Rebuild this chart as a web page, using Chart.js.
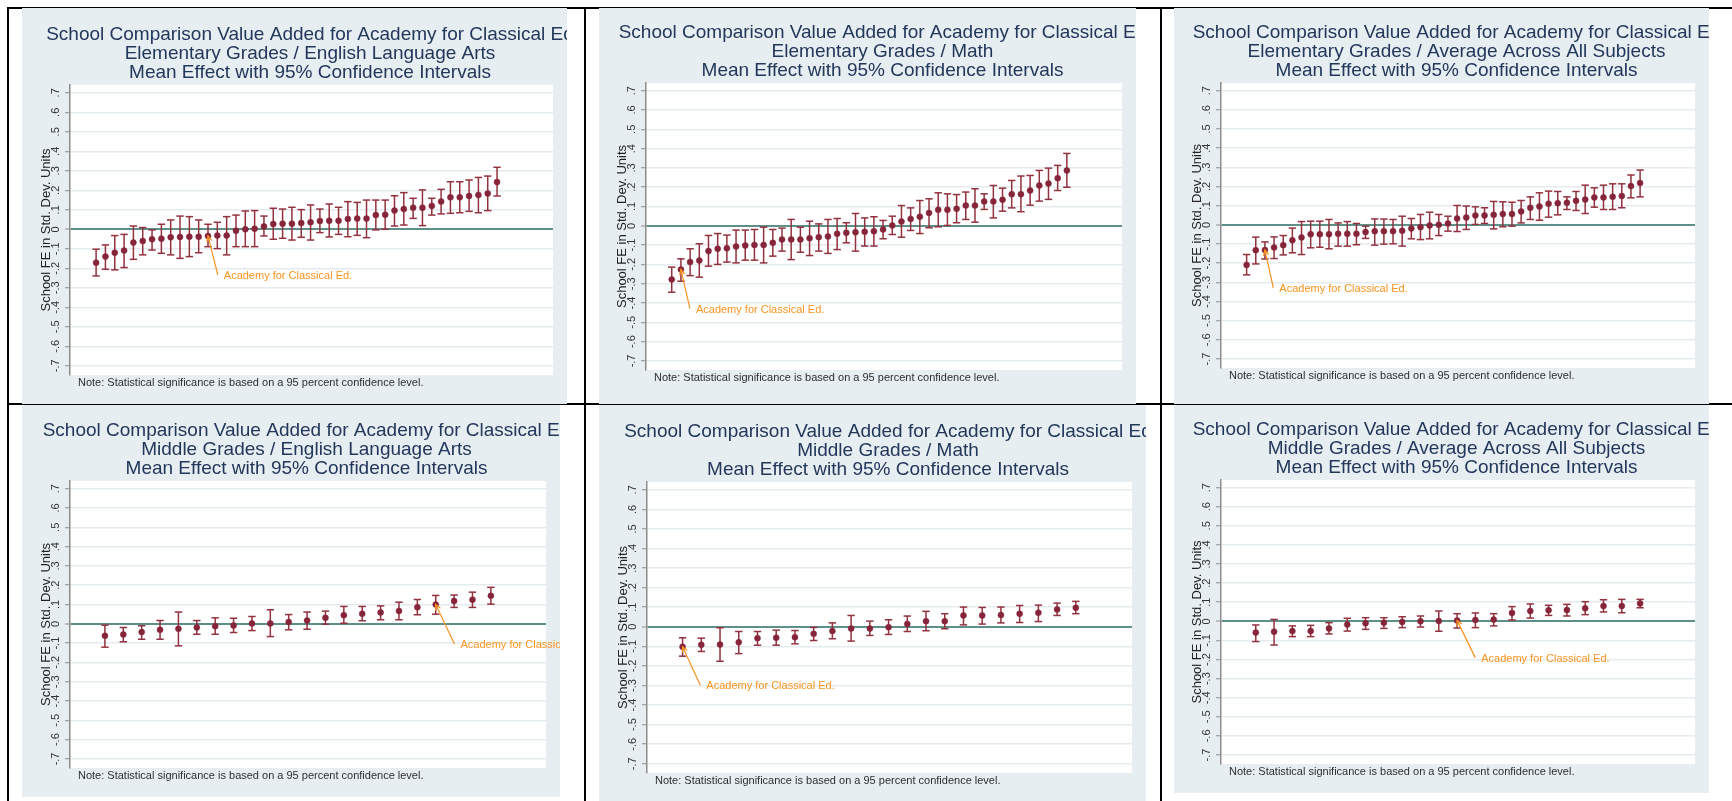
<!DOCTYPE html>
<html><head><meta charset="utf-8">
<script src="https://cdn.jsdelivr.net/npm/chart.js@4.4.1/dist/chart.umd.min.js"></script>
<style>
html,body{margin:0;padding:0;background:#fff;}
#page{position:relative;width:1732px;height:801px;overflow:hidden;background:#fff;}
.rule{position:absolute;background:#000;}
canvas.panel{position:absolute;background:#e7eef1;}
</style></head><body><div id="page"></div>
<script>
// ---------------- data ----------------
const tickValues = [-0.7,-0.6,-0.5,-0.4,-0.3,-0.2,-0.1,0,0.1,0.2,0.3,0.4,0.5,0.6,0.7];
const tickLabels = ["-.7","-.6","-.5","-.4","-.3","-.2","-.1","0",".1",".2",".3",".4",".5",".6",".7"];
const mainTitle = "School Comparison Value Added for Academy for Classical Ed";
const subTitles = ["Elementary Grades / English Language Arts","Elementary Grades / Math","Elementary Grades / Average Across All Subjects","Middle Grades / English Language Arts","Middle Grades / Math","Middle Grades / Average Across All Subjects"];
const thirdTitle = "Mean Effect with 95% Confidence Intervals";
const yAxisTitle = "School FE in Std. Dev. Units";
const noteText = "Note: Statistical significance is based on a 95 percent confidence level.";
const annotationText = "Academy for Classical Ed.";

const elemElaMean = [-0.171,-0.140,-0.120,-0.109,-0.068,-0.060,-0.051,-0.048,-0.041,-0.039,-0.038,-0.038,-0.034,-0.032,-0.032,-0.007,0.000,0.003,0.015,0.027,0.029,0.029,0.032,0.036,0.043,0.044,0.044,0.053,0.055,0.055,0.073,0.075,0.096,0.104,0.111,0.111,0.120,0.142,0.164,0.164,0.171,0.176,0.184,0.242];
const elemElaHi = [-0.102,-0.080,-0.032,-0.026,0.017,0.009,-0.003,0.026,0.048,0.068,0.065,0.048,0.026,0.036,0.065,0.073,0.094,0.096,0.068,0.108,0.104,0.113,0.101,0.125,0.104,0.130,0.113,0.142,0.138,0.150,0.150,0.150,0.172,0.188,0.159,0.202,0.159,0.205,0.244,0.244,0.253,0.266,0.273,0.318];
const elemElaLo = [-0.239,-0.205,-0.208,-0.196,-0.154,-0.131,-0.106,-0.123,-0.131,-0.149,-0.140,-0.120,-0.089,-0.099,-0.131,-0.089,-0.089,-0.089,-0.034,-0.051,-0.046,-0.055,-0.041,-0.055,-0.017,-0.039,-0.026,-0.038,-0.031,-0.043,-0.003,0.000,0.017,0.022,0.056,0.019,0.073,0.079,0.082,0.085,0.092,0.085,0.096,0.171];

const elemMathMean = [-0.278,-0.226,-0.188,-0.180,-0.131,-0.119,-0.116,-0.107,-0.102,-0.099,-0.099,-0.088,-0.071,-0.071,-0.071,-0.064,-0.059,-0.055,-0.041,-0.036,-0.033,-0.031,-0.028,-0.019,0.002,0.022,0.036,0.047,0.067,0.083,0.083,0.088,0.105,0.105,0.126,0.126,0.135,0.164,0.164,0.183,0.209,0.219,0.247,0.287];
const elemMathHi = [-0.214,-0.171,-0.119,-0.093,-0.050,-0.040,-0.048,-0.022,-0.022,-0.019,-0.007,-0.019,-0.012,0.033,-0.007,0.024,0.010,0.033,0.038,0.016,0.064,0.041,0.047,0.028,0.050,0.105,0.093,0.131,0.140,0.171,0.166,0.162,0.175,0.192,0.166,0.209,0.195,0.235,0.258,0.261,0.287,0.299,0.313,0.375];
const elemMathLo = [-0.344,-0.287,-0.258,-0.266,-0.209,-0.200,-0.188,-0.192,-0.178,-0.178,-0.192,-0.157,-0.131,-0.175,-0.137,-0.154,-0.131,-0.143,-0.123,-0.088,-0.131,-0.105,-0.105,-0.067,-0.045,-0.059,-0.024,-0.040,-0.010,-0.005,0.002,0.016,0.033,0.019,0.085,0.041,0.076,0.093,0.073,0.107,0.128,0.137,0.183,0.200];

const elemAvgMean = [-0.209,-0.132,-0.131,-0.118,-0.106,-0.080,-0.066,-0.049,-0.049,-0.049,-0.047,-0.047,-0.047,-0.038,-0.033,-0.033,-0.033,-0.031,-0.019,-0.012,-0.003,0.000,0.007,0.033,0.038,0.049,0.049,0.052,0.056,0.056,0.070,0.089,0.096,0.110,0.113,0.115,0.125,0.132,0.143,0.143,0.146,0.150,0.202,0.218];
const elemAvgHi = [-0.155,-0.064,-0.089,-0.063,-0.056,-0.017,0.017,0.019,0.019,0.028,0.010,0.017,0.007,-0.007,0.031,0.030,0.028,0.045,0.033,0.054,0.066,0.054,0.045,0.101,0.098,0.094,0.089,0.122,0.120,0.118,0.127,0.146,0.167,0.176,0.174,0.146,0.174,0.207,0.193,0.207,0.214,0.214,0.260,0.286];
const elemAvgLo = [-0.261,-0.204,-0.178,-0.176,-0.157,-0.146,-0.155,-0.120,-0.117,-0.125,-0.111,-0.111,-0.104,-0.071,-0.106,-0.101,-0.099,-0.111,-0.073,-0.077,-0.073,-0.056,-0.033,-0.035,-0.024,0.002,0.007,-0.021,-0.010,-0.007,0.010,0.028,0.024,0.040,0.052,0.080,0.075,0.059,0.092,0.080,0.080,0.089,0.141,0.146];

const midElaMean = [-0.062,-0.055,-0.043,-0.031,-0.026,-0.019,-0.012,-0.009,0.002,0.002,0.010,0.017,0.031,0.045,0.052,0.059,0.067,0.086,0.100,0.118,0.125,0.145];
const midElaHi = [-0.007,-0.019,-0.010,0.017,0.061,0.017,0.031,0.029,0.038,0.073,0.048,0.061,0.066,0.090,0.090,0.093,0.112,0.126,0.147,0.149,0.164,0.189];
const midElaLo = [-0.121,-0.093,-0.080,-0.080,-0.114,-0.054,-0.054,-0.045,-0.035,-0.066,-0.031,-0.028,-0.002,0.003,0.016,0.021,0.021,0.047,0.050,0.085,0.085,0.102];

const midMathMean = [-0.102,-0.092,-0.091,-0.079,-0.058,-0.056,-0.053,-0.036,-0.022,-0.009,-0.009,-0.002,0.015,0.029,0.029,0.058,0.058,0.060,0.067,0.072,0.089,0.097];
const midMathHi = [-0.056,-0.058,-0.005,-0.024,-0.024,-0.017,-0.019,-0.003,0.020,0.058,0.029,0.036,0.055,0.079,0.067,0.101,0.099,0.101,0.109,0.111,0.121,0.130];
const midMathLo = [-0.150,-0.126,-0.176,-0.137,-0.094,-0.094,-0.087,-0.070,-0.061,-0.073,-0.044,-0.039,-0.024,-0.020,-0.010,0.010,0.014,0.020,0.022,0.027,0.058,0.067];

const midAvgMean = [-0.059,-0.054,-0.051,-0.051,-0.037,-0.017,-0.010,-0.007,-0.003,0.000,0.002,0.005,0.007,0.009,0.044,0.054,0.058,0.059,0.068,0.080,0.080,0.094];
const midAvgHi = [-0.019,0.010,-0.024,-0.021,-0.007,0.016,0.019,0.019,0.024,0.028,0.054,0.040,0.044,0.040,0.077,0.091,0.084,0.089,0.103,0.113,0.115,0.115];
const midAvgLo = [-0.106,-0.124,-0.080,-0.080,-0.066,-0.051,-0.042,-0.037,-0.033,-0.030,-0.052,-0.035,-0.033,-0.024,0.007,0.017,0.031,0.028,0.035,0.049,0.045,0.071];

// 1-based position of the Academy for Classical Ed. in each panel
const academyIndex = [13, 2, 3, 19, 1, 12];

// ---------------- layout / style ----------------
const FONT = '"Liberation Sans", Arial, Helvetica, sans-serif';
const TITLE_COLOR = '#23375b';
const MARK_COLOR = '#86243a';
const BAR_COLOR = '#93323f';
const GRID_COLOR = '#e4ecef';
const ZERO_COLOR = '#5e8f88';
const ORANGE = '#f7931e';
const Y_MIN = -0.747, Y_MAX = 0.74;

const panels = [
  {mean: elemElaMean, lo: elemElaLo, hi: elemElaHi, sub: 0, tail: {x: 14.05, y: -0.234}, xMin: -1.8, xMax: 50,
   gray: {l: 22, t: 8, r: 567, b: 404}, plot: {l: 70, t: 85, r: 553, b: 375}},
  {mean: elemMathMean, lo: elemMathLo, hi: elemMathHi, sub: 1, tail: {x: 2.98, y: -0.429}, xMin: -1.8, xMax: 50,
   gray: {l: 599, t: 8, r: 1136, b: 404}, plot: {l: 646, t: 83, r: 1122, b: 370}},
  {mean: elemAvgMean, lo: elemAvgLo, hi: elemAvgHi, sub: 2, tail: {x: 3.92, y: -0.329}, xMin: -1.8, xMax: 50,
   gray: {l: 1174, t: 8, r: 1709, b: 404}, plot: {l: 1221, t: 83, r: 1695, b: 368}},
  {mean: midElaMean, lo: midElaLo, hi: midElaHi, sub: 3, tail: {x: 20.02, y: -0.105}, xMin: -0.9, xMax: 25,
   gray: {l: 22, t: 405, r: 560, b: 797}, plot: {l: 70, t: 481, r: 546, b: 768}},
  {mean: midMathMean, lo: midMathLo, hi: midMathHi, sub: 4, tail: {x: 1.95, y: -0.299}, xMin: -0.9, xMax: 25,
   gray: {l: 599, t: 405, r: 1146, b: 801}, plot: {l: 647, t: 482, r: 1132, b: 773}},
  {mean: midAvgMean, lo: midAvgLo, hi: midAvgHi, sub: 5, tail: {x: 12.99, y: -0.190}, xMin: -0.9, xMax: 25,
   gray: {l: 1174, t: 405, r: 1709, b: 793}, plot: {l: 1221, t: 480, r: 1695, b: 764}}
];

const page = document.getElementById('page');
function rule(l, t, w, h) {
  const d = document.createElement('div'); d.className = 'rule';
  d.style.left = l + 'px'; d.style.top = t + 'px'; d.style.width = w + 'px'; d.style.height = h + 'px';
  page.appendChild(d);
}
rule(7, 7, 1725, 2);
rule(7, 7, 2, 794);
rule(584, 7, 2, 794);
rule(1160, 7, 2, 794);
rule(7, 403, 1725, 2);

function makeDecor(p, idx) {
  return {
    id: 'decor' + idx,
    beforeDraw(chart) {
      const {ctx, chartArea: a} = chart;
      ctx.save();
      ctx.fillStyle = '#ffffff';
      ctx.fillRect(a.left, a.top, a.right - a.left, a.bottom - a.top);
      ctx.restore();
    },
    afterDraw(chart) {
      const {ctx, chartArea: a, scales} = chart;
      const xs = scales.x, ys = scales.y;
      const cx = (a.left + a.right) / 2 - 1.5;
      ctx.save();
      // titles
      ctx.fillStyle = TITLE_COLOR;
      ctx.font = '19px ' + FONT;
      ctx.textAlign = 'center';
      ctx.textBaseline = 'middle';
      const lines = [mainTitle, subTitles[p.sub], thirdTitle];
      const offs = [50, 31, 12];
      lines.forEach((t, i) => ctx.fillText(t, cx, a.top - offs[i]));
      // note
      ctx.fillStyle = '#2e2e2e';
      ctx.font = '11px ' + FONT;
      ctx.textAlign = 'left';
      ctx.fillText(noteText, a.left + 8, a.bottom + 8);
      // y axis title (overlapping tick labels, as in the original)
      ctx.save();
      ctx.translate(a.left - 24, (a.top + a.bottom) / 2);
      ctx.rotate(-Math.PI / 2);
      ctx.textAlign = 'center';
      ctx.font = '13px ' + FONT;
      ctx.fillStyle = '#222';
      ctx.fillText(yAxisTitle, 0, 0);
      ctx.restore();
      // annotation arrow
      const k = academyIndex[idx];
      const hx = xs.getPixelForValue(k), hy = ys.getPixelForValue(p.mean[k - 1]);
      const tx = xs.getPixelForValue(p.tail.x), ty = ys.getPixelForValue(p.tail.y);
      ctx.strokeStyle = ORANGE; ctx.lineWidth = 1.2;
      ctx.beginPath(); ctx.moveTo(tx, ty); ctx.lineTo(hx, hy); ctx.stroke();
      const ang = Math.atan2(hy - ty, hx - tx);
      const bl = 6, ba = 0.45;
      ctx.beginPath();
      ctx.moveTo(hx - bl * Math.cos(ang - ba), hy - bl * Math.sin(ang - ba));
      ctx.lineTo(hx, hy);
      ctx.lineTo(hx - bl * Math.cos(ang + ba), hy - bl * Math.sin(ang + ba));
      ctx.stroke();
      ctx.fillStyle = ORANGE;
      ctx.font = '11px ' + FONT;
      ctx.textAlign = 'left';
      ctx.textBaseline = 'middle';
      ctx.fillText(annotationText, tx + 6, ty + 1);
      ctx.restore();
    }
  };
}

panels.forEach((p, idx) => {
  const w = p.gray.r - p.gray.l, h = p.gray.b - p.gray.t;
  const c = document.createElement('canvas');
  c.className = 'panel';
  c.width = w; c.height = h;
  c.style.left = p.gray.l + 'px'; c.style.top = p.gray.t + 'px';
  c.style.width = w + 'px'; c.style.height = h + 'px';
  page.appendChild(c);

  const meanPts = p.mean.map((v, i) => ({x: i + 1, y: v}));
  const hiPts = p.hi.map((v, i) => ({x: i + 1, y: v}));
  const loPts = p.lo.map((v, i) => ({x: i + 1, y: v}));
  const whisker = [];
  p.mean.forEach((v, i) => {
    whisker.push({x: i + 1, y: p.lo[i]});
    whisker.push({x: i + 1, y: p.hi[i]});
    whisker.push({x: i + 1, y: null});
  });
  const axisW = p.plot.l - p.gray.l;

  new Chart(c, {
    type: 'line',
    data: {
      datasets: [
        {data: meanPts, showLine: false, pointStyle: 'circle', pointRadius: 3, pointBackgroundColor: MARK_COLOR, pointBorderColor: MARK_COLOR, pointBorderWidth: 0.5},
        {data: hiPts, showLine: false, pointStyle: 'line', pointRadius: 3.7, pointBorderColor: BAR_COLOR, pointBorderWidth: 1.5},
        {data: loPts, showLine: false, pointStyle: 'line', pointRadius: 3.7, pointBorderColor: BAR_COLOR, pointBorderWidth: 1.5},
        {data: whisker, showLine: true, spanGaps: false, borderColor: BAR_COLOR, borderWidth: 1.5, pointRadius: 0, fill: false}
      ]
    },
    options: {
      responsive: false,
      animation: false,
      devicePixelRatio: 1,
      events: [],
      layout: {padding: {left: 0, right: p.gray.r - p.plot.r, top: p.plot.t - p.gray.t, bottom: p.gray.b - p.plot.b}},
      plugins: {legend: {display: false}, tooltip: {enabled: false}, title: {display: false}},
      scales: {
        x: {type: 'linear', display: false, min: p.xMin, max: p.xMax},
        y: {
          type: 'linear', min: Y_MIN, max: Y_MAX,
          afterFit: s => { s.width = axisW; },
          afterBuildTicks: s => { s.ticks = tickValues.map(v => ({value: v})); },
          ticks: {
            autoSkip: false, minRotation: 90, maxRotation: 90, crossAlign: 'center', padding: 3,
            color: '#333', font: {family: FONT, size: 11},
            callback: (v, i) => tickLabels[i]
          },
          grid: {
            color: ctx => (ctx.tick && ctx.tick.value === 0) ? ZERO_COLOR : GRID_COLOR,
            lineWidth: ctx => (ctx.tick && ctx.tick.value === 0) ? 2 : 1.5,
            tickLength: 5, tickColor: '#8c8c8c', tickWidth: 1, drawTicks: true
          },
          border: {display: true, color: '#8c8c8c', width: 1.5}
        }
      }
    },
    plugins: [makeDecor(p, idx)]
  });
});
</script></body></html>
